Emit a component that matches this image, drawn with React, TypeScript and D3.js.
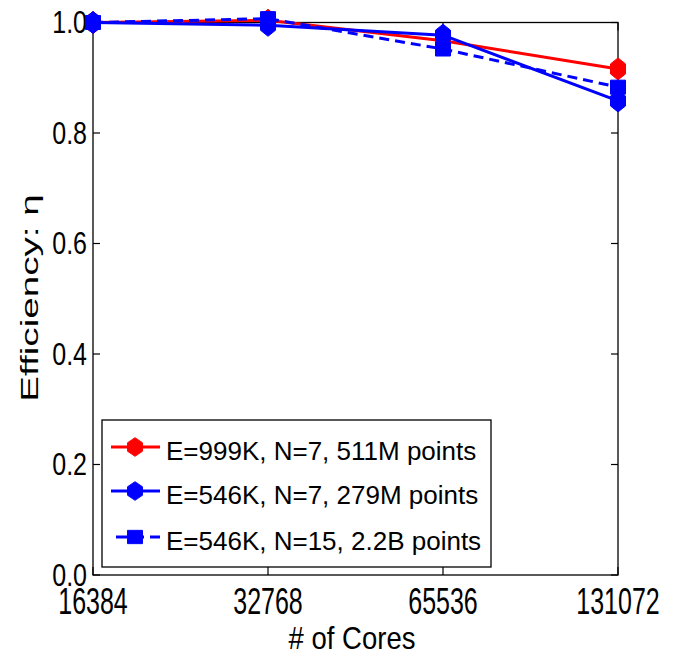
import React from "react";
import * as d3 from "d3";

const cores = [16384, 32768, 65536, 131072];
const xTickLabels = ["16384", "32768", "65536", "131072"];
const yTicks = [0, 0.2, 0.4, 0.6, 0.8, 1.0];
const redValues = [1.0, 1.004, 0.967, 0.916];
const blueDiamondValues = [1.0, 0.995, 0.977, 0.858];
const blueSquareValues = [1.0, 1.007, 0.952, 0.883];
const legendLabels = [
  "E=999K, N=7, 511M points",
  "E=546K, N=7, 279M points",
  "E=546K, N=15, 2.2B points",
];

const W = 676;
const H = 659;
const L = 93, R = 618, T = 22.5, B = 575;
const FONT = "'Liberation Sans', Arial, sans-serif";

const hexPath = "M0,-11 L7.5,-5 L7.5,5 L0,11 L-7.5,5 L-7.5,-5 Z";
const sqPath = "M-7.5,-7 L7.5,-7 L7.5,7 L-7.5,7 Z";

export default function App() {
  const x = d3.scaleLog().base(2).domain([16384, 131072]).range([L, R]);
  const y = d3.scaleLinear().domain([0, 1]).range([B, T]);
  const line = d3
    .line<[number, number]>()
    .x((d) => x(d[0]))
    .y((d) => y(d[1]));

  const series = [
    { values: redValues, color: "#ff0000", dash: undefined as string | undefined, marker: hexPath },
    { values: blueSquareValues, color: "#0000ff", dash: "10,6", marker: sqPath },
    { values: blueDiamondValues, color: "#0000ff", dash: undefined, marker: hexPath },
  ];

  const legendItems = [
    { label: legendLabels[0], color: "#ff0000", dash: undefined as string | undefined, marker: hexPath, x1: 111, ly: 447, by: 459.5 },
    { label: legendLabels[1], color: "#0000ff", dash: undefined, marker: hexPath, x1: 111, ly: 491, by: 503.5 },
    { label: legendLabels[2], color: "#0000ff", dash: "11,6", marker: sqPath, x1: 116, ly: 537, by: 549.5 },
  ];

  return (
    <svg
      width={W}
      height={H}
      style={{ position: "absolute", left: 0, top: 0, background: "#fff" }}
      fontFamily={FONT}
    >
      <rect x={0} y={0} width={W} height={H} fill="#fff" />
      {/* axes box */}
      <rect x={L} y={T} width={R - L} height={B - T} fill="none" stroke="#000" strokeWidth={1.3} />
      {/* y ticks */}
      {yTicks.map((t) => (
        <g key={"y" + t}>
          <line x1={L} x2={L + 7} y1={y(t)} y2={y(t)} stroke="#000" strokeWidth={1.2} />
          <line x1={R} x2={R - 7} y1={y(t)} y2={y(t)} stroke="#000" strokeWidth={1.2} />
          <text
            transform={`translate(87,${y(t) + 10.5}) scale(1,1.23)`}
            textAnchor="end"
            fontSize={25}
            fill="#000"
          >
            {d3.format(".1f")(t)}
          </text>
        </g>
      ))}
      {/* x ticks */}
      {cores.map((c, i) => (
        <g key={"x" + c}>
          <line x1={x(c)} x2={x(c)} y1={B} y2={B - 8} stroke="#000" strokeWidth={1.2} />
          <line x1={x(c)} x2={x(c)} y1={T} y2={T + 8} stroke="#000" strokeWidth={1.2} />
          <text
            transform={`translate(${x(c)},614) scale(1,1.45)`}
            textAnchor="middle"
            fontSize={25}
            fill="#000"
          >
            {xTickLabels[i]}
          </text>
        </g>
      ))}
      {/* axis labels */}
      <text
        transform={`translate(352,649) scale(1,1.15)`}
        textAnchor="middle"
        fontSize={27.5}
        fill="#000"
      >
        # of Cores
      </text>
      <text
        transform={`translate(37.5,298) rotate(-90) scale(1.68,1)`}
        textAnchor="middle"
        fontSize={23}
        fill="#000"
      >
        Efficiency: η
      </text>
      {/* series */}
      {series.map((s, si) => (
        <g key={"s" + si}>
          <path
            d={line(cores.map((c, i) => [c, s.values[i]] as [number, number])) || ""}
            fill="none"
            stroke={s.color}
            strokeWidth={3}
            strokeDasharray={s.dash}
          />
          {cores.map((c, i) => (
            <path
              key={"m" + i}
              d={s.marker}
              transform={`translate(${x(c)},${y(s.values[i])})`}
              fill={s.color}
              stroke={s.color}
              strokeWidth={1}
            />
          ))}
        </g>
      ))}
      {/* legend */}
      <rect x={102} y={420} width={389} height={147} fill="#fff" stroke="#000" strokeWidth={1.3} />
      {legendItems.map((it, i) => (
        <g key={"l" + i}>
          <line
            x1={it.x1}
            x2={160}
            y1={it.ly}
            y2={it.ly}
            stroke={it.color}
            strokeWidth={3}
            strokeDasharray={it.dash}
          />
          <path
            d={it.marker}
            transform={`translate(135,${it.ly}) scale(1,${it.marker === hexPath ? 0.85 : 0.95})`}
            fill={it.color}
            stroke={it.color}
          />
          <text x={166} y={it.by} fontSize={26} fill="#000">
            {it.label}
          </text>
        </g>
      ))}
    </svg>
  );
}
